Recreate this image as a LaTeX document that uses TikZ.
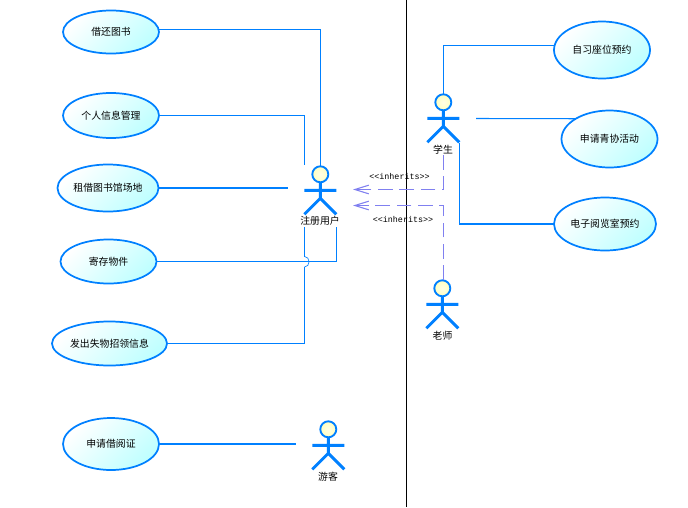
\documentclass[tikz,border=0pt]{standalone}
\usepackage{fontspec}
\setmainfont{Noto Sans CJK SC}
\newfontfamily\umlmono{Liberation Mono}
\usetikzlibrary{shapes.geometric,arrows.meta}
\definecolor{umlblue}{HTML}{0080FF}
\definecolor{umlpurple}{HTML}{8080F0}
\definecolor{casecyan}{HTML}{BFFFFF}
\tikzstyle{usecase}=[draw=umlblue,line width=1.3pt,ellipse,inner sep=0pt,outer sep=0pt,top color=white,bottom color=casecyan,shading angle=45,font=\fontsize{7.4}{9}\selectfont]
\tikzstyle{head}=[draw=umlblue,line width=1.4pt,circle,minimum size=16*0.75pt,inner sep=0pt,outer sep=0pt,inner color=yellow!10,outer color=yellow!25]
\tikzstyle{limb}=[draw=umlblue,line width=2.2pt]
\tikzstyle{assoc}=[draw=umlblue,line width=0.8pt]
\tikzstyle{inherit}=[draw=umlpurple,line width=0.9pt,dash pattern=on 11pt off 5pt,-{Straight Barb[length=10.5pt,width=6.5pt,line width=0.8pt]}]
\tikzstyle{actorname}=[inner sep=0pt,font=\fontsize{7.4}{9}\selectfont]
\tikzstyle{stereo}=[inner sep=0pt,font=\umlmono\fontsize{6.3}{8}\selectfont]

\begin{document}
\begin{tikzpicture}[x=0.75pt,y=-0.75pt]
\useasboundingbox (0,0) rectangle (688,507);

\node[usecase,minimum width=96*0.75pt,minimum height=43*0.75pt] (returnbook) at (111,32) {借还图书};
\node[usecase,minimum width=96*0.75pt,minimum height=45*0.75pt] (profile) at (111,115.5) {个人信息管理};
\node[usecase,minimum width=101*0.75pt,minimum height=47*0.75pt] (venue) at (108,188) {租借图书馆场地};
\node[usecase,minimum width=96*0.75pt,minimum height=44*0.75pt] (storage) at (108.5,261.5) {寄存物件};
\node[usecase,minimum width=115*0.75pt,minimum height=44*0.75pt] (lostfound) at (109.5,343.5) {发出失物招领信息};
\node[usecase,minimum width=96*0.75pt,minimum height=52*0.75pt] (card) at (111,444) {申请借阅证};

\node[usecase,minimum width=96*0.75pt,minimum height=57*0.75pt] (seat) at (602,50) {自习座位预约};
\node[usecase,minimum width=96*0.75pt,minimum height=57*0.75pt] (league) at (609.5,139) {申请青协活动};
\node[usecase,minimum width=102*0.75pt,minimum height=53*0.75pt] (ereading) at (605,224) {电子阅览室预约};

\node[head] (reader) at (320.3,174.3) {};
\node[head] (student) at (443.3,102.3) {};
\node[head] (teacher) at (442.3,288.3) {};
\node[head] (visitor) at (328.3,429.3) {};

\foreach \who in {reader,student,teacher,visitor}
  \draw[limb] (\who.south)--++(0,16) coordinate (hip)--++(-16,16) (hip)--++(16,16)
    (\who.south)++(-16,8)--++(32,0);

\node[actorname] (readername) at (320,220.5) {注册用户};
\node[actorname] (studentname) at (443,149.5) {学生};
\node[actorname] (teachername) at (442.5,335.5) {老师};
\node[actorname] (visitorname) at (328,476.5) {游客};

\coordinate (profileend) at (304.5,165);
\coordinate (venueend) at (288,188);
\coordinate (cardend) at (296,444);
\coordinate (storageend) at (336.5,227);
\coordinate (lostend) at (304.5,227);
\coordinate (hopa) at (304.5,267);
\coordinate (hopb) at (304.5,256.5);
\coordinate (leaguestart) at (476,118.5);
\coordinate (ereadingstart) at (459.5,143);

\draw[assoc] (returnbook.3)-|(reader.north);
\draw[assoc] (profile.east)-|(profileend);
\draw[assoc] (venue.east)--(venueend);
\draw[assoc] (storage.east)-|(storageend);
\draw[assoc] (lostfound.east)-|(hopa);
\draw[assoc,line width=0.5pt] (hopa) .. controls (310.5,267) and (310.5,256.5) .. (hopb);
\draw[assoc] (hopb)--(lostend);
\draw[assoc] (card.east)--(cardend);
\draw[assoc] (student.north)|-(seat.175);
\draw[assoc] (leaguestart)--(league.149);
\draw[assoc] (ereadingstart)|-(ereading.west);

\draw[black,line width=0.8pt] (406.5,0)--(406.5,507);

\coordinate (studentfoot) at (443.5,155);
\coordinate (teachertop) at (443.5,280);
\coordinate (inhup) at (353,189.5);
\coordinate (inhdown) at (353,205.5);
\draw[inherit] (studentfoot)|-(inhup);
\draw[inherit] (teachertop)|-(inhdown);

\node[stereo] (upperlabel) at (399.5,176) {<{}<inherits>{}>};
\node[stereo] (lowerlabel) at (403,219.5) {<{}<inherits>{}>};
\end{tikzpicture}
\end{document}
